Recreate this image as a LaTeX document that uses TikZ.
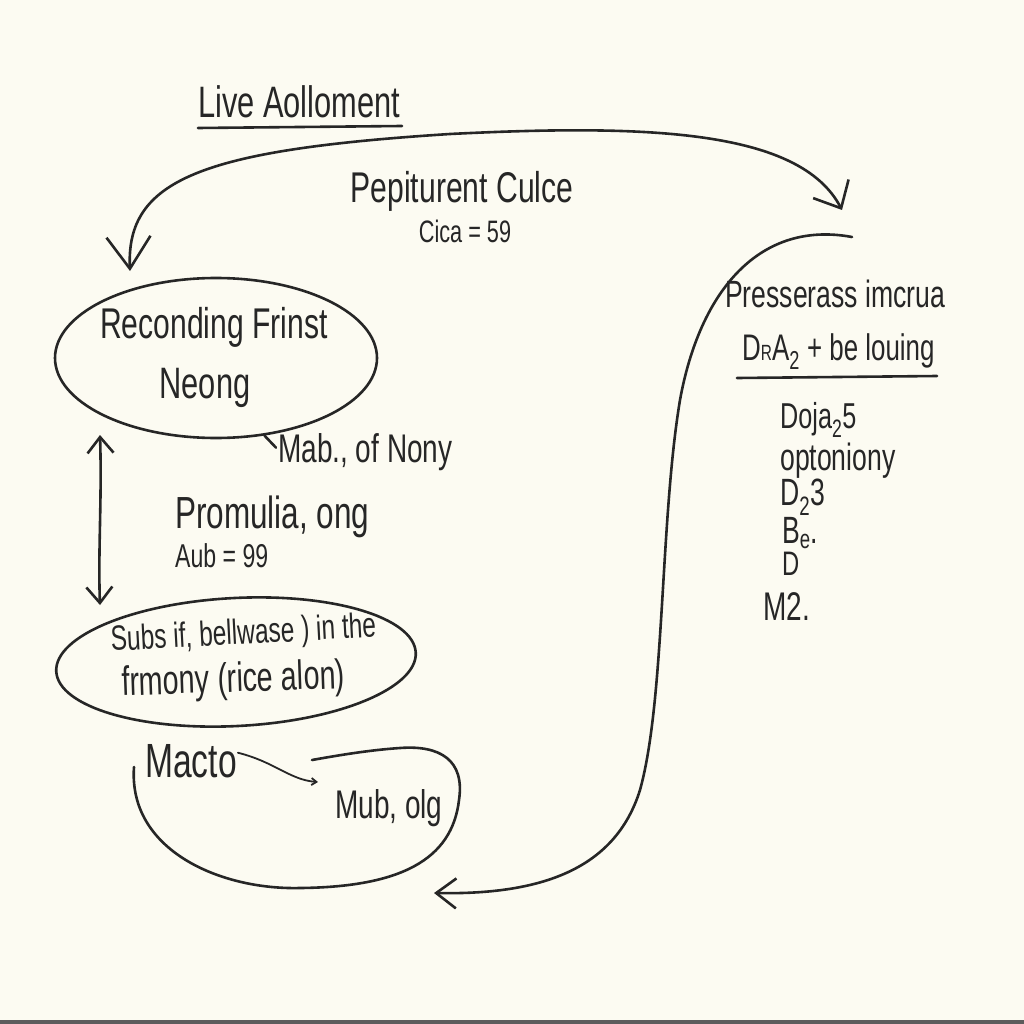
\documentclass[tikz,border=0pt]{standalone}
\usepackage{fontspec}
\setmainfont[FakeStretch=0.7]{Liberation Sans}
\usetikzlibrary{arrows.meta,shapes.geometric}
\definecolor{paper}{HTML}{FCFBF2}
\definecolor{inkc}{HTML}{262626}
\newcommand{\fsz}[1]{\fontsize{#1}{#1}\selectfont}
\begin{document}
\begin{tikzpicture}[x=1pt,y=-1pt,
  pen/.style={draw=inkc, line width=2.6pt, line cap=round, line join=round},
  txt/.style={text=inkc, inner sep=0pt, anchor=base west},
  ctxt/.style={text=inkc, inner sep=0pt, anchor=base},
  blob/.style={pen, ellipse, inner sep=0pt}]
\useasboundingbox (0,0) rectangle (1024,1024);
\fill[paper] (0,0) rectangle (1024,1024);
\fill[inkc!75] (0,1020) rectangle (1024,1024);

% title
\node[txt, font=\fsz{44}] (title) at (198,118) {Live Aolloment};
\draw[pen] (198,128) -- (402,126);

% top labels
\node[ctxt, font=\fsz{43}] (pep) at (462,203) {Pepiturent Culce};
\node[ctxt, font=\fsz{31}] (cica) at (465,243) {Cica = 59};

% ellipse 1
\node[blob, minimum width=322pt, minimum height=160pt] (el1) at (216,358) {};
\node[ctxt, font=\fsz{43}] (el1a) at (214,338) {Reconding Frinst};
\node[ctxt, font=\fsz{44}] (el1b) at (205,398) {Neong};
\node[txt, font=\fsz{40}] (mab) at (278,462) {Mab., of Nony};
\draw[pen] (el1.-58) -- ([xshift=-2pt,yshift=4pt]mab.west);

% vertical double arrow
\coordinate (vtop) at (100,435);
\coordinate (vbot) at (100,605);
\draw[pen, {Straight Barb[length=16pt,width=26pt]}-{Straight Barb[length=16pt,width=26pt]}] (vtop) .. controls (102,500) and (98,550) .. (vbot);

\node[txt, font=\fsz{45}] (prom) at (175,528) {Promulia, ong};
\node[txt, font=\fsz{33}] (aub) at (175,567) {Aub = 99};

% ellipse 2
\node[blob, minimum width=360pt, minimum height=128pt, rotate=3] (el2) at (236,662) {};
\node[ctxt, rotate=3, font=\fsz{35}] (el2a) at (244,644) {Subs if, bellwase ) in the};
\node[ctxt, rotate=2, font=\fsz{41}] (el2b) at (234,692) {frmony (rice alon)};

% open blob
\draw[pen] (134,767) .. controls (128,850) and (220,890) .. (300,888)
  .. controls (400,887) and (452,860) .. (459,800)
  .. controls (465,760) and (440,745) .. (400,748)
  .. controls (370,750) and (340,755) .. (312,760);
\node[txt, font=\fsz{48}] (macto) at (145,777) {Macto};
\node[txt, font=\fsz{40}] (mub) at (335,818) {Mub, olg};
\draw[pen, line width=1.8pt, -{Straight Barb[length=5pt,width=7pt]}] ([xshift=1pt]macto.east) ++(0,-8)
  .. controls (275,762) and (290,780) .. (318,782);

% top connector
\coordinate (tl) at (130,271);
\coordinate (tr) at (842,210);
\draw[pen, {Straight Barb[length=32pt,width=44pt]}-{Straight Barb[length=22pt,width=40pt]}]
  (tl) .. controls (126,180) and (200,150) .. (450,134)
  .. controls (650,124) and (800,130) .. (tr);

% big right connector
\coordinate (rs) at (852,237);
\coordinate (re) at (434,893);
\draw[pen, -{Straight Barb[length=20pt,width=30pt]}]
  (rs) .. controls (760,220) and (700,290) .. (680,400)
  .. controls (660,520) and (665,700) .. (640,790)
  .. controls (615,870) and (540,895) .. (re);

% right text block
\node[txt, font=\fsz{38}] (pres) at (725,307) {Presserass imcrua};
\node[txt, font=\fsz{37}] (dra) at (742,360) {D{\fsz{22}R}A\textsubscript{2} + be louing};
\draw[pen] (737,378) -- (937,376);
\node[txt, font=\fsz{36}] (l1) at (780,428) {Doja\textsubscript{2}5};
\node[txt, font=\fsz{38}] (l2) at (780,470) {optoniony};
\node[txt, font=\fsz{38}] (l3) at (780,505) {D\textsubscript{2}3};
\node[txt, font=\fsz{38}] (l4) at (782,543) {B\textsubscript{e}.};
\node[txt, font=\fsz{34}] (l5) at (782,575) {D};
\node[txt, font=\fsz{40}] (l6) at (763,620) {M2.};
\end{tikzpicture}
\end{document}
